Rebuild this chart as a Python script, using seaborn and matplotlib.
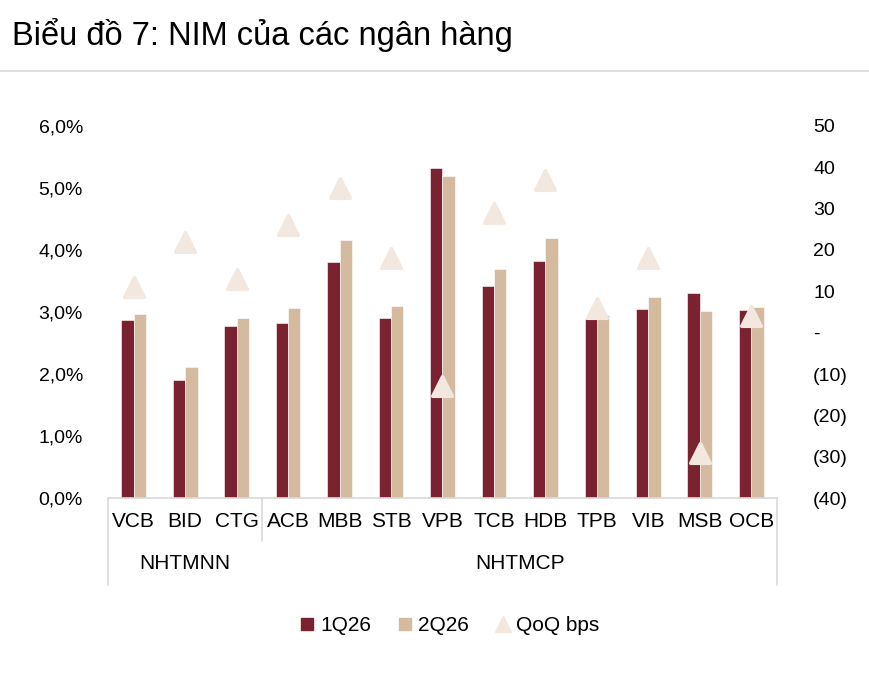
import numpy as np
import pandas as pd
import matplotlib
matplotlib.use("Agg")
import matplotlib.pyplot as plt
import seaborn as sns
from matplotlib.lines import Line2D
from matplotlib.ticker import FuncFormatter, MultipleLocator

# ─────────────────────────────────────────────
# DATOS
# ─────────────────────────────────────────────
banks = ["VCB", "BID", "CTG", "ACB", "MBB", "STB", "VPB",
         "TCB", "HDB", "TPB", "VIB", "MSB", "OCB"]
groups = ["NHTMNN", "NHTMCP"]
group_sizes = [3, 10]

nim_1q26 = [2.87, 1.90, 2.78, 2.82, 3.81, 2.90, 5.32,
            3.42, 3.83, 2.89, 3.05, 3.31, 3.03]
nim_2q26 = [2.97, 2.12, 2.90, 3.07, 4.16, 3.09, 5.19,
            3.70, 4.20, 2.95, 3.24, 3.02, 3.08]
qoq_bps = [11, 22, 13, 26, 35, 18, -13, 29, 37, 6, 18, -29, 4]

series_names = ["1Q26", "2Q26", "QoQ bps"]

COL_1Q = "#7B2230"
COL_2Q = "#D4BBA0"
COL_QOQ = "#F3E8DF"
COL_LINE = "#D9D9D9"

df = pd.DataFrame({
    "bank": banks * 2,
    "nim": nim_1q26 + nim_2q26,
    "quarter": [series_names[0]] * len(banks) + [series_names[1]] * len(banks),
})

sns.set_style("white")
plt.rcParams["font.family"] = ["Liberation Sans", "DejaVu Sans"]
plt.rcParams["text.color"] = "black"
plt.rcParams["xtick.color"] = "black"
plt.rcParams["ytick.color"] = "black"

fig = plt.figure(figsize=(8.7, 6.74), dpi=100)
ax = fig.add_axes([0.1241, 0.2611, 0.769, 0.552])

sns.barplot(data=df, x="bank", y="nim", hue="quarter", order=banks,
            palette=[COL_1Q, COL_2Q], width=0.48, gap=0, saturation=1,
            edgecolor="white", linewidth=0.4, legend=False, ax=ax)

ax.set_ylim(0, 6.0)
ax.set_xlim(-0.5, len(banks) - 0.5)
ax.yaxis.set_major_locator(MultipleLocator(1.0))
ax.yaxis.set_major_formatter(
    FuncFormatter(lambda v, p: f"{v:.1f}%".replace(".", ",")))
ax.set_xlabel("")
ax.set_ylabel("")
ax.tick_params(axis="y", length=0, pad=18, labelsize=14)
ax.tick_params(axis="x", length=0, pad=10, labelsize=15)
for sp in ["top", "right", "left"]:
    ax.spines[sp].set_visible(False)
ax.spines["bottom"].set_color(COL_LINE)
ax.spines["bottom"].set_linewidth(1.2)

# eje derecho: variación QoQ
ax2 = ax.twinx()
sns.scatterplot(x=np.arange(len(banks)), y=qoq_bps, marker="^", s=200,
                color=COL_QOQ, edgecolor=COL_QOQ, linewidth=2.5,
                zorder=5, ax=ax2, legend=False)
for coll in ax2.collections:
    coll.set_joinstyle("round")
ax2.set_ylim(-40, 50)
ax2.yaxis.set_major_locator(MultipleLocator(10))


def fmt_bps(v, p):
    v = int(round(v))
    if v == 0:
        return "-"
    return f"({abs(v)})" if v < 0 else f"{v}"


ax2.yaxis.set_major_formatter(FuncFormatter(fmt_bps))
ax2.tick_params(axis="y", length=0, pad=26, labelsize=14)
for sp in ax2.spines.values():
    sp.set_visible(False)

# etiquetas de grupo y separadores
trans = ax.get_xaxis_transform()
edges = np.concatenate([[0], np.cumsum(group_sizes)]) - 0.5
for i, name in enumerate(groups):
    mid = (edges[i] + edges[i + 1]) / 2
    ax.text(mid, -0.175, name, transform=trans, ha="center", va="center",
            fontsize=15, clip_on=False)
for j, e in enumerate(edges):
    outer = j in (0, len(edges) - 1)
    ax.plot([e, e], [0, -0.235 if outer else -0.115], transform=trans,
            color=COL_LINE, lw=1.2, clip_on=False)

# leyenda
handles = [
    Line2D([], [], marker="s", ls="none", color=COL_1Q, markersize=9),
    Line2D([], [], marker="s", ls="none", color=COL_2Q, markersize=9),
    Line2D([], [], marker="^", ls="none", color=COL_QOQ, markersize=12),
]
fig.legend(handles, series_names, loc="center", bbox_to_anchor=(0.515, 0.072),
           ncol=3, frameon=False, fontsize=15, handletextpad=0.15,
           columnspacing=1.1, handlelength=1.0)

# título
fig.text(0.014, 0.948, "Biểu đồ 7: NIM của các ngân hàng", fontsize=23.5,
         ha="left", va="center")
fig.add_artist(Line2D([0, 1], [0.895, 0.895], transform=fig.transFigure,
                      color=COL_LINE, lw=1.2))

fig.savefig("out.png", dpi=100)
